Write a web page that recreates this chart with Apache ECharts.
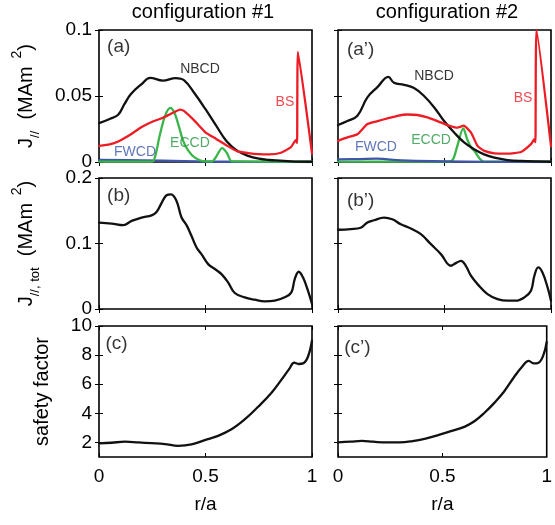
<!DOCTYPE html>
<html>
<head>
<meta charset="utf-8">
<script src="https://cdn.jsdelivr.net/npm/echarts@6/dist/echarts.min.js"></script>
<style>html,body{margin:0;padding:0;background:#fff}#c{width:555px;height:525px}</style>
</head>
<body>
<div id="c"></div>
<script>
// ---------- data (r/a, value) ----------
const titles = ['configuration #1', 'configuration #2'];
const panelLetters = [['(a)', '(a\u2019)'], ['(b)', '(b\u2019)'], ['(c)', '(c\u2019)']];
const xTicks = [0, 0.5, 1];
const yTicksA = [0, 0.05, 0.1];
const yTicksB = [0, 0.1, 0.2];
const yTicksC = [2, 4, 6, 8, 10];

const nbcd1 = [[0,0.0295],[0.05,0.0326],[0.09,0.0358],[0.12,0.044],[0.15,0.0515],[0.2,0.059],[0.24,0.0638],[0.3,0.0616],[0.36,0.0635],[0.4,0.0618],[0.45,0.0517],[0.5,0.040],[0.55,0.0275],[0.6,0.0155],[0.65,0.0084],[0.7,0.0046],[0.75,0.0025],[0.8,0.0015],[0.85,0.001],[0.9,0.0005],[1,0.0002]];
const bs1 = [[0,0.0122],[0.05,0.0133],[0.09,0.0155],[0.15,0.021],[0.2,0.0265],[0.25,0.0305],[0.3,0.0335],[0.35,0.0375],[0.38,0.0397],[0.4,0.0385],[0.45,0.031],[0.5,0.0225],[0.55,0.0175],[0.6,0.0125],[0.65,0.008],[0.7,0.0068],[0.75,0.006],[0.8,0.0058],[0.85,0.0068],[0.9,0.011],[0.924,0.0165],[0.93,0.0145],[0.934,0.0835],[1,0.0065]];
const eccd1 = [[0,0.0003],[0.25,0.0003],[0.265,0.005],[0.285,0.02],[0.31,0.035],[0.335,0.041],[0.355,0.037],[0.375,0.027],[0.395,0.016],[0.42,0.0084],[0.45,0.0033],[0.5,0.0005],[0.53,0.0005],[0.55,0.004],[0.578,0.0105],[0.6,0.007],[0.625,0.0005],[1,0.0003]];
const fwcd1 = [[0,0.0016],[0.2,0.0013],[0.4,0.0007],[0.6,0.0002],[1,0]];

const nbcd2 = [[0,0.028],[0.044,0.031],[0.091,0.035],[0.138,0.049],[0.185,0.0567],[0.236,0.0645],[0.263,0.060],[0.31,0.0585],[0.357,0.056],[0.404,0.050],[0.451,0.0415],[0.498,0.031],[0.545,0.0224],[0.592,0.0148],[0.639,0.0097],[0.686,0.0058],[0.734,0.0033],[0.796,0.0015],[0.859,0.0008],[1,0.0002]];
const bs2 = [[0,0.016],[0.044,0.0186],[0.091,0.021],[0.138,0.0288],[0.185,0.031],[0.232,0.033],[0.279,0.035],[0.326,0.036],[0.373,0.0356],[0.42,0.0338],[0.467,0.031],[0.514,0.028],[0.561,0.026],[0.59,0.0275],[0.624,0.0224],[0.655,0.0122],[0.687,0.0084],[0.734,0.0066],[0.796,0.0064],[0.859,0.0076],[0.906,0.0135],[0.922,0.0173],[0.927,0.015],[0.932,0.1],[1,0.012]];
const eccd2 = [[0,0.0003],[0.52,0.0003],[0.54,0.002],[0.56,0.012],[0.588,0.0255],[0.607,0.017],[0.625,0.011],[0.64,0.0085],[0.663,0.003],[0.685,0.0003],[1,0.0003]];
const fwcd2 = [[0,0.002],[0.1,0.0022],[0.18,0.0025],[0.3,0.0012],[0.5,0.0005],[0.7,0.0001],[1,0]];

const jtot1 = [[0,0.132],[0.059,0.1305],[0.114,0.128],[0.153,0.1345],[0.2,0.1396],[0.247,0.143],[0.27,0.148],[0.294,0.162],[0.317,0.1736],[0.338,0.175],[0.364,0.165],[0.3875,0.1396],[0.411,0.128],[0.434,0.1117],[0.458,0.094],[0.481,0.0838],[0.5125,0.0685],[0.544,0.061],[0.575,0.0533],[0.606,0.0406],[0.6375,0.0244],[0.684,0.0178],[0.731,0.0142],[0.778,0.0117],[0.825,0.0127],[0.872,0.0178],[0.903,0.0254],[0.919,0.0457],[0.9375,0.0569],[0.958,0.048],[0.981,0.028],[1,0.0076]];
const jtot2 = [[0,0.121],[0.0596,0.122],[0.1066,0.124],[0.138,0.132],[0.169,0.1355],[0.216,0.1396],[0.255,0.137],[0.295,0.1294],[0.342,0.1228],[0.389,0.1142],[0.436,0.099],[0.483,0.0838],[0.53,0.066],[0.553,0.070],[0.577,0.0736],[0.6,0.066],[0.624,0.0508],[0.655,0.038],[0.702,0.0228],[0.749,0.0152],[0.796,0.0127],[0.835,0.0127],[0.875,0.0178],[0.906,0.028],[0.922,0.0508],[0.94,0.0635],[0.96,0.0558],[0.984,0.033],[1,0.0127]];

const q1 = [[0,1.93],[0.059,1.98],[0.122,2.05],[0.184,2.0],[0.247,1.95],[0.309,1.89],[0.372,1.77],[0.434,1.86],[0.497,2.16],[0.559,2.45],[0.622,2.9],[0.684,3.58],[0.747,4.45],[0.809,5.4],[0.856,6.3],[0.895,7.09],[0.916,7.48],[0.9375,7.39],[0.958,7.43],[0.981,7.89],[1,9.0]];
const q2 = [[0,2.0],[0.0596,2.05],[0.114,2.11],[0.169,2.05],[0.232,2.0],[0.295,2.0],[0.357,2.09],[0.42,2.27],[0.483,2.52],[0.545,2.79],[0.608,3.09],[0.655,3.47],[0.702,4.04],[0.749,4.72],[0.796,5.5],[0.843,6.48],[0.882,7.2],[0.914,7.61],[0.937,7.43],[0.961,7.48],[0.984,8.0],[1,8.9]];

// annotation anchors in data coords
const notes1 = [['NBCD',0.474,0.0705,'#000'],['BS',0.873,0.0455,'#ed1c24'],['ECCD',0.427,0.0144,'#23963f'],['FWCD',0.169,0.0076,'#3a55a8']];
const notes2 = [['NBCD',0.451,0.065,'#000'],['BS',0.869,0.0485,'#ed1c24'],['ECCD',0.437,0.0167,'#23963f'],['FWCD',0.178,0.0114,'#3a55a8']];
const letterPos = [[[0.038,0.087],[0.042,0.085]],[[0.038,0.173],[0.042,0.166]],[[0.03,8.8],[0.03,8.5]]];

// ---------- layout ----------
const FONT = '"Liberation Sans", Arial, Helvetica, sans-serif';
const cols = [{left:99, width:213}, {left:338, width:213}];
const rows = [{top:30, height:132}, {top:178, height:131}, {top:326, height:131}];
const rowY = [
  {min:0, max:0.1, ticks:yTicksA},
  {min:0, max:0.2, ticks:yTicksB},
  {min:1, max:10, ticks:yTicksC}
];
const RED='#ed1c24', GREEN='#39b54a', BLUE='#3f56a6', BLACK='#111';

const yNames = [
  '{t|J}{s|//}{t|  (MAm}{p|  2}{t|)}',
  '{t|J}{s|//, tot}{t|  (MAm}{p|  2}{t|)}',
  '{t|safety factor}'
];
const nameRich = {
  t:{fontSize:20, fontFamily:FONT, color:'#000', verticalAlign:'middle', lineHeight:32},
  s:{fontSize:13, fontFamily:FONT, color:'#000', verticalAlign:'bottom', lineHeight:32},
  p:{fontSize:14, fontFamily:FONT, color:'#000', verticalAlign:'top', lineHeight:32}
};

const grid=[], xAxis=[], yAxis=[], series=[];
const tickStyle = {show:true, inside:true, length:4, lineStyle:{color:'#000', width:1}};

for (let r=0; r<3; r++) {
  for (let c=0; c<2; c++) {
    const g = grid.length;
    grid.push({left:cols[c].left, top:rows[r].top, width:cols[c].width, height:rows[r].height,
      show:true, borderColor:'#000', borderWidth:1.6, backgroundColor:'transparent', containLabel:false});
    const bottomRow = r===2, leftCol = c===0;
    xAxis.push({type:'value', gridIndex:g, min:0, max:1, position:'bottom',
      axisLine:{show:false}, splitLine:{show:false},
      axisTick:Object.assign({}, tickStyle, {customValues:xTicks}),
      axisLabel:{show:bottomRow, customValues:xTicks, margin:10, fontSize:19, fontFamily:FONT, color:'#000'},
      name: bottomRow ? 'r/a' : '', nameLocation:'middle', nameGap:38,
      nameTextStyle:{fontSize:19, fontFamily:FONT, color:'#000'}});
    xAxis.push({type:'value', gridIndex:g, min:0, max:1, position:'top',
      axisLine:{show:false}, splitLine:{show:false},
      axisTick:Object.assign({}, tickStyle, {customValues:xTicks}),
      axisLabel:{show:false, customValues:xTicks}});
    yAxis.push({type:'value', gridIndex:g, min:rowY[r].min, max:rowY[r].max, position:'left',
      axisLine:{show:false}, splitLine:{show:false},
      axisTick:Object.assign({}, tickStyle, {customValues:rowY[r].ticks}),
      axisLabel:{show:leftCol, customValues:rowY[r].ticks, margin:7, fontSize:19, fontFamily:FONT, color:'#000'},
      name: leftCol ? yNames[r] : '', nameLocation:'middle', nameRotate:90,
      nameGap: r===2 ? 41 : 57,
      nameTextStyle:{rich:nameRich}});
    yAxis.push({type:'value', gridIndex:g, min:rowY[r].min, max:rowY[r].max, position:'right',
      axisLine:{show:false}, splitLine:{show:false},
      axisTick:Object.assign({}, tickStyle, {customValues:rowY[r].ticks}),
      axisLabel:{show:false, customValues:rowY[r].ticks}});
  }
}

function line(g, data, color, z, smooth) {
  return {type:'line', xAxisIndex:2*g, yAxisIndex:2*g, data:data, showSymbol:false, symbol:'none',
    smooth: smooth === undefined ? 0.4 : smooth, clip:true, z:z||2,
    lineStyle:{color:color, width:2.3, join:'round', cap:'round'}, silent:true, animation:false};
}
function textSeries(g, items, fontSize, align) {
  return {type:'scatter', xAxisIndex:2*g, yAxisIndex:2*g, symbolSize:0, silent:true, animation:false, z:5,
    data: items.map(it => ({value:[it[1], it[2]], name:it[0],
      label:{show:true, formatter:it[0], position: align==='left' ? 'right' : 'inside', distance:0,
        color:it[3], fontSize:fontSize, fontFamily:FONT}}))};
}

series.push(line(0, fwcd1, BLUE, 2), line(0, eccd1, GREEN, 3, 0.3), line(0, nbcd1, BLACK, 4), line(0, bs1, RED, 5, 0.15));
series.push(line(1, eccd2, GREEN, 2, 0.3), line(1, fwcd2, BLUE, 3), line(1, nbcd2, BLACK, 4), line(1, bs2, RED, 5, 0.15));
series.push(textSeries(0, notes1, 14), textSeries(1, notes2, 14));
series.push(line(2, jtot1, BLACK), line(3, jtot2, BLACK));
series.push(line(4, q1, BLACK), line(5, q2, BLACK));
for (let r=0; r<3; r++) for (let c=0; c<2; c++) {
  const p = letterPos[r][c];
  series.push(textSeries(r*2+c, [[panelLetters[r][c], p[0], p[1], '#000']], 19, 'left'));
}

const option = {
  animation:false,
  backgroundColor:'#fff',
  grid, xAxis, yAxis, series,
  graphic:[
    {type:'text', x:203, y:2, style:{text:titles[0], align:'center', verticalAlign:'top', fontSize:20, fontFamily:FONT, fill:'#000'}},
    {type:'text', x:447, y:2, style:{text:titles[1], align:'center', verticalAlign:'top', fontSize:20, fontFamily:FONT, fill:'#000'}}
  ]
};
const chart = echarts.init(document.getElementById('c'), null, {renderer:'canvas'});
chart.setOption(option);
</script>
</body>
</html>
